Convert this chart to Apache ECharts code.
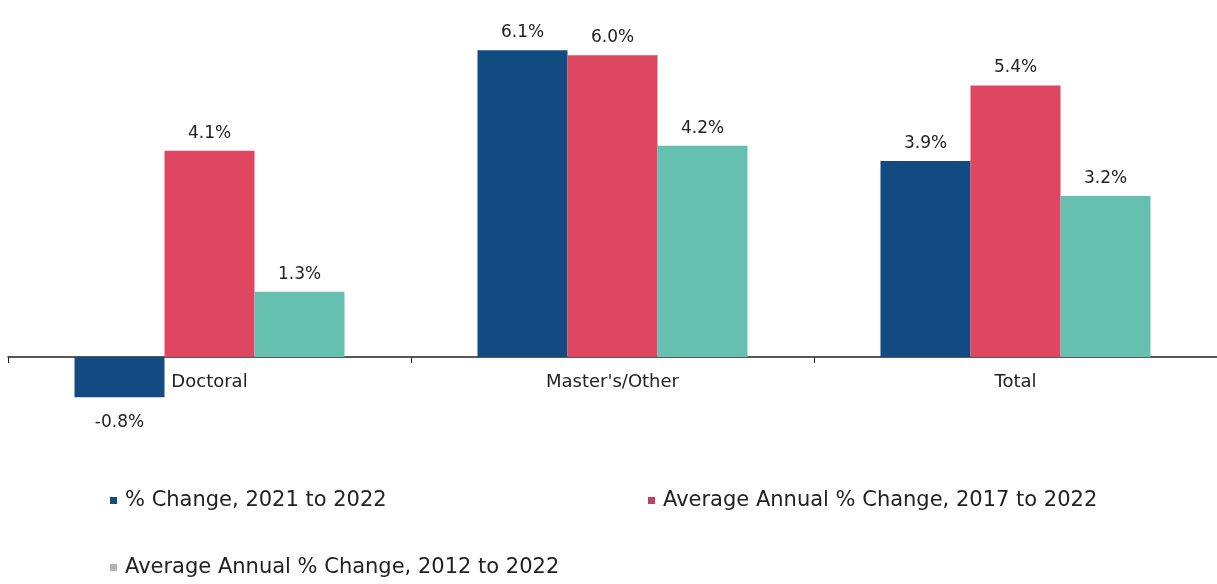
<!DOCTYPE html>
<html><head><meta charset="utf-8">
<script src="https://cdn.jsdelivr.net/npm/echarts@6/dist/echarts.min.js"></script>
<style>html,body{margin:0;padding:0;background:#fff}#c{width:1217px;height:584px}</style>
</head><body><div id="c"></div>
<script>
const categories = ["Doctoral", "Master's/Other", "Total"];
const seriesNames = ["% Change, 2021 to 2022", "Average Annual % Change, 2017 to 2022", "Average Annual % Change, 2012 to 2022"];
const change2021 = [-0.8, 6.1, 3.9];
const avg2017 = [4.1, 6.0, 5.4];
const avg2012 = [1.3, 4.2, 3.2];
const colors = ["#124a82", "#df4660", "#66c0b0"];
const legendIconColors = ["#124a82", "#c2405e", "#b5b5b5"];

const FONT = '"DejaVu Sans"';
const Y_MIN = -2, Y_MAX = 7;
const GRID_TOP = 5, GRID_H = 452.6;
const pxPerUnit = GRID_H / (Y_MAX - Y_MIN);
const chart = echarts.init(document.getElementById('c'), null, {renderer: 'canvas'});
function mkSeries(name, data, color) {
  return {
    name, type: 'bar', data: data.map(v => ({
      value: v,
      label: {position: v < 0 ? 'bottom' : 'top', distance: v < 0 ? 17 : 9}
    })),
    barWidth: 90, barGap: '0%',
    itemStyle: {color},
    label: {show: true, formatter: p => p.value.toFixed(1) + '%', color: '#222', fontSize: 17, fontFamily: FONT},
    emphasis: {disabled: true}
  };
}
const legendBase = {
  orient: 'horizontal', icon: 'rect', itemWidth: 7, itemHeight: 7, itemGap: 6,
  textStyle: {fontSize: 21, color: '#222', fontFamily: FONT, padding: [0, 0, 0, 3]},
  selectedMode: false
};
chart.setOption({
  animation: false,
  backgroundColor: '#ffffff',
  grid: {left: 8, top: GRID_TOP, width: 1215, height: GRID_H, containLabel: false},
  xAxis: {
    type: 'category', data: categories, position: 'bottom',
    offset: -(-Y_MIN) * pxPerUnit,
    axisLine: {onZero: false, lineStyle: {color: '#222', width: 1.5}},
    axisTick: {show: true, length: 6, lineStyle: {color: '#222'}},
    axisLabel: {color: '#222', fontSize: 18, fontFamily: FONT, margin: 16}
  },
  yAxis: {type: 'value', min: Y_MIN, max: Y_MAX, interval: 1, show: false, splitLine: {show: false}},
  legend: [
    Object.assign({}, legendBase, {left: 105, top: 485, data: [{name: seriesNames[0], itemStyle: {color: legendIconColors[0]}}]}),
    Object.assign({}, legendBase, {left: 643, top: 485, data: [{name: seriesNames[1], itemStyle: {color: legendIconColors[1]}}]}),
    Object.assign({}, legendBase, {left: 105, top: 552, data: [{name: seriesNames[2], itemStyle: {color: legendIconColors[2]}}]})
  ],
  series: [
    mkSeries(seriesNames[0], change2021, colors[0]),
    mkSeries(seriesNames[1], avg2017, colors[1]),
    mkSeries(seriesNames[2], avg2012, colors[2])
  ]
});
</script></body></html>
